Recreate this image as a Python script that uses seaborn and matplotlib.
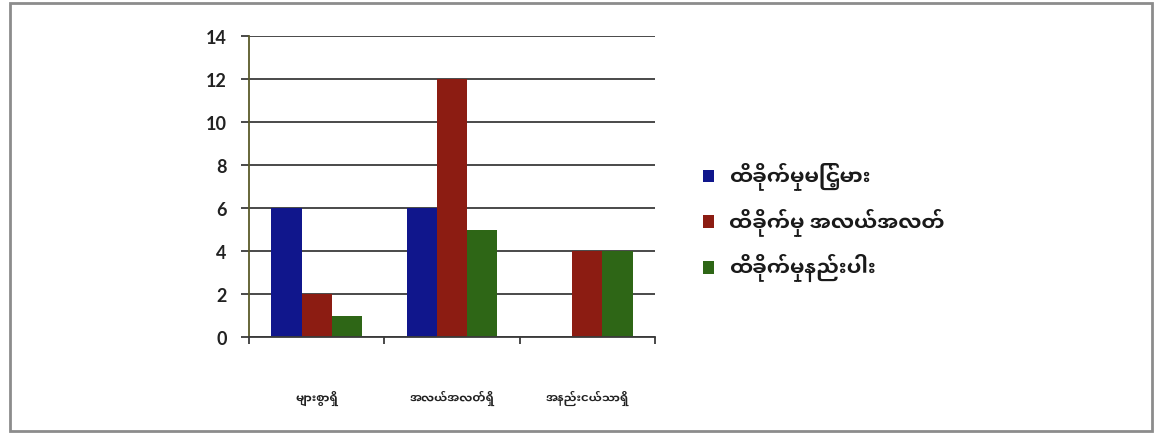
import matplotlib
matplotlib.use("Agg")
import matplotlib.pyplot as plt
import matplotlib.patches as mpatches
import seaborn as sns
import pandas as pd

# categories (x) and series (hue)
categories = ["များစွာရှိ", "အလယ်အလတ်ရှိ", "အနည်းငယ်သာရှိ"]
series = ["ထိခိုက်မှုမြင့်မား", "ထိခိုက်မှု အလယ်အလတ်", "ထိခိုက်မှုနည်းပါး"]
high_vals = [6, 6, 0]
mid_vals = [2, 12, 4]
low_vals = [1, 5, 4]
colors = ["#10168c", "#8c1c12", "#2e6616"]
y_ticks = [0, 2, 4, 6, 8, 10, 12, 14]

rows = []
for s, vals in zip(series, [high_vals, mid_vals, low_vals]):
    for c, v in zip(categories, vals):
        rows.append({"cat": c, "series": s, "value": v})
df = pd.DataFrame(rows)

sns.set_style("white")
plt.rcParams["font.family"] = ["Noto Sans Myanmar UI", "DejaVu Sans"]

fig = plt.figure(figsize=(11.55, 4.39), dpi=100)
ax = fig.add_axes([0.2156, 0.23, 0.3515, 0.6857])

sns.barplot(data=df, x="cat", y="value", hue="series", palette=colors,
            width=0.67, saturation=1, ax=ax, linewidth=0)

ax.set_ylim(0, 14)
ax.set_xlim(-0.5, 2.5)
ax.set_yticks(y_ticks)
ax.set_xlabel("")
ax.set_ylabel("")
ax.yaxis.grid(True, color="#3a3a3a", linewidth=1.3)
ax.set_axisbelow(True)
for side in ["top", "right"]:
    ax.spines[side].set_visible(False)
ax.spines["left"].set_color("#5a5a2a")
ax.spines["bottom"].set_color("#3a3a3a")
ax.spines["left"].set_linewidth(1.3)
ax.spines["bottom"].set_linewidth(1.3)

ax.tick_params(axis="y", which="major", left=True, length=6, width=1.3,
               color="#3a3a3a", pad=10)
for lab in ax.get_yticklabels():
    lab.set_family(["Lato", "DejaVu Sans"])
    lab.set_fontweight("bold")
    lab.set_fontsize(13)
    lab.set_color("#222222")

# category boundaries as small ticks, labels well below the axis
ax.set_xticks([-0.5, 0.5, 1.5, 2.5], minor=True)
ax.tick_params(axis="x", which="minor", bottom=True, length=5, width=1.3,
               color="#3a3a3a")
ax.tick_params(axis="x", which="major", length=0, pad=38)
for lab in ax.get_xticklabels():
    lab.set_fontsize(8.5)
    lab.set_fontweight("bold")
    lab.set_color("#222222")

handles, labels = ax.get_legend_handles_labels()
leg = ax.legend(handles, labels, loc="center left",
                bbox_to_anchor=(0.592, 0.494), bbox_transform=fig.transFigure,
                frameon=False, fontsize=15, handlelength=0.55, handleheight=0.55,
                handletextpad=0.7, labelspacing=0.85)
for t in leg.get_texts():
    t.set_fontweight("bold")
    t.set_color("#1a1a1a")

# outer chart frame
fig.patches.append(mpatches.Rectangle((0.009, 0.016), 0.988, 0.974,
                                      transform=fig.transFigure, fill=False,
                                      edgecolor="#8c8c8c", linewidth=2))

fig.savefig("out.png", dpi=100)
